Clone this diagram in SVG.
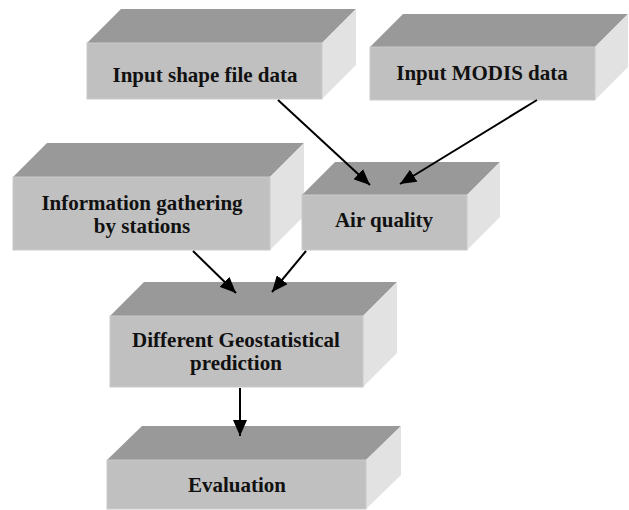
<svg xmlns="http://www.w3.org/2000/svg" width="629" height="510" viewBox="0 0 629 510">
<style>
.top{fill:#999999}
.front{fill:#c0c0c0;stroke:#cacaca;stroke-width:1}
.side{fill:#e2e2e2}
.lbl{font-family:"Liberation Serif","Times New Roman",serif;font-weight:bold;font-size:21px;fill:#111;text-anchor:middle}
.conn{stroke:#000;stroke-width:2;fill:none;marker-end:url(#arr)}
</style>
<defs>
<marker id="arr" markerUnits="userSpaceOnUse" markerWidth="16" markerHeight="14" refX="16" refY="7" orient="auto">
<path d="M0,0 L16,7 L0,14 Z" fill="#000"/>
</marker>
</defs>
<rect width="629" height="510" fill="#fff"/>
<g id="n1">
<polygon class="top" points="87,43 121,9 356,9 322,43"/>
<polygon class="side" points="322,43 356,9 356,65 322,99"/>
<rect class="front" x="87" y="43" width="235" height="56"/>
<text class="lbl" x="205" y="82">Input shape file data</text>
</g>
<g id="n2">
<polygon class="top" points="370,47 403,14 628,14 595,47"/>
<polygon class="side" points="595,47 628,14 628,67 595,100"/>
<rect class="front" x="370" y="47" width="225" height="53"/>
<text class="lbl" x="482" y="80">Input MODIS data</text>
</g>
<g id="n3">
<polygon class="top" points="13,177 47,143 304,143 270,177"/>
<polygon class="side" points="270,177 304,143 304,216 270,250"/>
<rect class="front" x="13" y="177" width="257" height="73"/>
<text class="lbl" x="142" y="210">Information gathering</text>
<text class="lbl" x="142" y="233">by stations</text>
</g>
<g id="n4">
<polygon class="top" points="302,195 335,162 500,162 467,195"/>
<polygon class="side" points="467,195 500,162 500,217 467,250"/>
<rect class="front" x="302" y="195" width="165" height="55"/>
<text class="lbl" x="384" y="227">Air quality</text>
</g>
<g id="n5">
<polygon class="top" points="110,316 144,282 397,282 363,316"/>
<polygon class="side" points="363,316 397,282 397,353 363,387"/>
<rect class="front" x="110" y="316" width="253" height="71"/>
<text class="lbl" x="236" y="347">Different Geostatistical</text>
<text class="lbl" x="236" y="370">prediction</text>
</g>
<g id="n6">
<polygon class="top" points="107,460 142,426 401,426 366,460"/>
<polygon class="side" points="366,460 401,426 401,475 366,509"/>
<rect class="front" x="107" y="460" width="259" height="49"/>
<text class="lbl" x="237" y="492">Evaluation</text>
</g>
<g id="connectors">
<line class="conn" x1="278" y1="100" x2="370" y2="185"/>
<line class="conn" x1="537" y1="100" x2="400" y2="184"/>
<line class="conn" x1="193" y1="251" x2="236" y2="293"/>
<line class="conn" x1="306" y1="251" x2="272" y2="292"/>
<line class="conn" x1="240" y1="388" x2="240" y2="436"/>
</g>
</svg>
